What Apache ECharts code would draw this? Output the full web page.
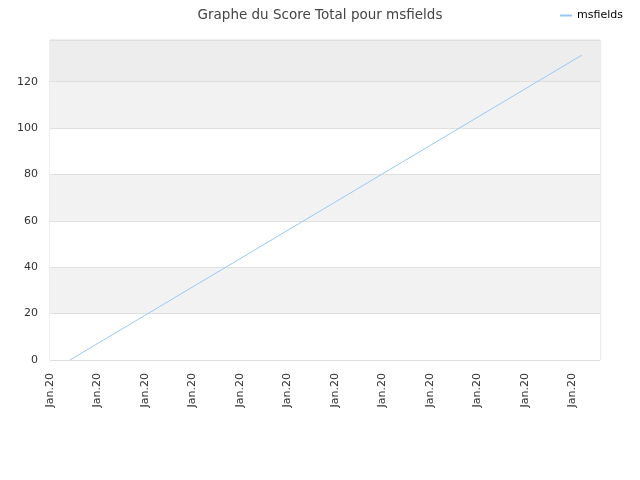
<!DOCTYPE html>
<html><head><meta charset="utf-8">
<script src="https://cdn.jsdelivr.net/npm/echarts@6/dist/echarts.min.js"></script>
<style>html,body{margin:0;padding:0;background:#fff}#c{width:640px;height:480px}</style>
</head><body><div id="c"></div>
<script>
const title = "Graphe du Score Total pour msfields";
const seriesName = "msfields";
const xTickLabels = ["Jan.20","Jan.20","Jan.20","Jan.20","Jan.20","Jan.20","Jan.20","Jan.20","Jan.20","Jan.20","Jan.20","Jan.20"];
const xPositions = [0.42, 11.2];
const scores = [0, 131.5];

const chart = echarts.init(document.getElementById('c'), null, {renderer: 'canvas'});
const font = "DejaVu Sans";
chart.setOption({
  animation: false,
  textStyle: {fontFamily: font},
  title: {text: title, left: 'center', top: 3, textStyle: {fontFamily: font, fontSize: 13.5, fontWeight: 'normal', color: '#444'}},
  legend: {right: 12, top: 5, itemWidth: 12, itemHeight: 2, icon: 'rect', itemGap: 6,
    textStyle: {fontFamily: font, fontSize: 11, color: '#000'},
    data: [seriesName]},
  grid: {left: 50, right: 40, top: 40, bottom: 120, show: true, borderColor: '#dcdcdc', borderWidth: 1},
  xAxis: {type: 'value', min: 0, max: 11.58, interval: 1,
    axisLine: {show: false}, axisTick: {show: false}, splitLine: {show: false},
    axisLabel: {rotate: 90, fontSize: 11, color: '#333', margin: 13, showMaxLabel: false,
      formatter: (v) => xTickLabels[Math.round(v)] || ''}},
  yAxis: {type: 'value', min: 0, max: 138, interval: 20,
    axisLine: {show: false}, axisTick: {show: false},
    axisLabel: {fontSize: 11, color: '#333', margin: 12, showMaxLabel: false},
    splitLine: {show: true, lineStyle: {color: '#e0e0e0', width: 1}},
    splitArea: {show: true, areaStyle: {color: ['#ffffff','#f2f2f2','#ffffff','#f2f2f2','#ffffff','#f2f2f2','#ededed']}}},
  series: [{name: seriesName, type: 'line', showSymbol: false, symbol: 'none',
    lineStyle: {color: '#99c8f5', width: 1}, itemStyle: {color: '#99c8f5'},
    data: xPositions.map((x, i) => [x, scores[i]])}]
});
</script></body></html>
